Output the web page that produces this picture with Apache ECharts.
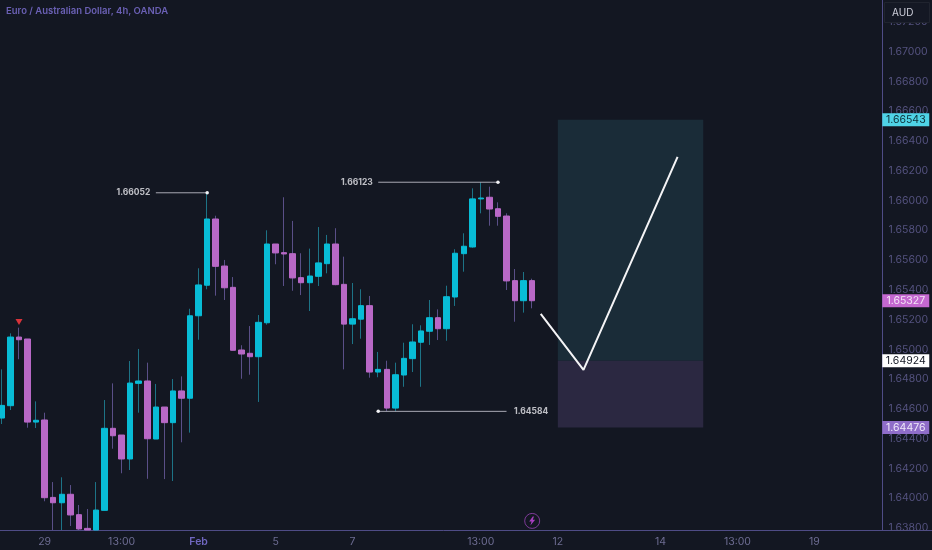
<!DOCTYPE html>
<html><head><meta charset="utf-8">
<style>html,body{margin:0;padding:0;background:#131722}#c{width:932px;height:550px}</style>
<script src="https://cdn.jsdelivr.net/npm/echarts@6/dist/echarts.min.js"></script>
</head><body><div id="c"></div>
<script>
const opens=[1.64539,1.64622,1.65083,1.65070,1.64512,1.64526,1.64006,1.63970,1.64027,1.63890,1.63798,1.63787,1.63919,1.64470,1.64425,1.64264,1.64772,1.64788,1.64398,1.64613,1.64508,1.64721,1.64672,1.65226,1.65431,1.65876,1.65560,1.65417,1.64996,1.64974,1.64951,1.65179,1.65708,1.65650,1.65643,1.65482,1.65448,1.65491,1.65576,1.65708,1.65437,1.65170,1.65203,1.65294,1.64848,1.64866,1.64606,1.64828,1.64938,1.65048,1.65122,1.65213,1.65139,1.65352,1.65643,1.65688,1.66011,1.66022,1.65945,1.65896,1.65462,1.65327,1.65462];
const closes=[1.64624,1.65083,1.65065,1.64512,1.64524,1.64004,1.63970,1.64027,1.63888,1.63794,1.63787,1.63921,1.64470,1.64420,1.64264,1.64774,1.64788,1.64400,1.64613,1.64508,1.64721,1.64672,1.65226,1.65433,1.65876,1.65558,1.65414,1.64994,1.64969,1.64951,1.65182,1.65708,1.65648,1.65641,1.65480,1.65448,1.65493,1.65581,1.65708,1.65435,1.65170,1.65206,1.65294,1.64848,1.64866,1.64606,1.64830,1.64940,1.65050,1.65124,1.65213,1.65139,1.65354,1.65646,1.65693,1.66011,1.66017,1.65943,1.65894,1.65460,1.65327,1.65462,1.65327];
const lows=[1.64499,1.64593,1.64934,1.64474,1.64472,1.63980,1.63787,1.63787,1.63814,1.63787,1.63787,1.63787,1.63919,1.64333,1.64168,1.64190,1.64575,1.64131,1.64398,1.64129,1.64116,1.64376,1.64441,1.65065,1.65404,1.65361,1.65332,1.64994,1.64803,1.64830,1.64647,1.65166,1.65572,1.65426,1.65394,1.65365,1.65258,1.65426,1.65511,1.65431,1.64866,1.65036,1.65072,1.64810,1.64813,1.64584,1.64584,1.64749,1.64848,1.64749,1.65030,1.65063,1.65058,1.65292,1.65522,1.65683,1.65914,1.65831,1.65831,1.65399,1.65186,1.65247,1.65276];
const highs=[1.64866,1.65108,1.65146,1.65070,1.64651,1.64575,1.64109,1.64141,1.64089,1.63955,1.63928,1.64109,1.64660,1.64772,1.64425,1.64922,1.65003,1.64911,1.64768,1.64613,1.64801,1.64819,1.65273,1.65545,1.66052,1.65898,1.65601,1.65486,1.65028,1.65157,1.65231,1.65800,1.65708,1.66022,1.65863,1.65646,1.65677,1.65822,1.65769,1.65814,1.65623,1.65446,1.65404,1.65359,1.64983,1.64924,1.64911,1.65045,1.65169,1.65162,1.65332,1.65269,1.65428,1.65673,1.65780,1.66082,1.66123,1.66093,1.65988,1.65914,1.65540,1.65520,1.65475];

const tickSlots=[5,14,23,32,41,56,65,77,86,95];
const tickNames=['29','13:00','Feb','5','7','13:00','12','14','13:00','19'];
const slotCount=104;
const priceTicks=[1.638,1.640,1.642,1.644,1.646,1.648,1.650,1.652,1.654,1.656,1.658,1.660,1.662,1.664,1.666,1.668,1.670,1.672];
const priceMin=1.63787, priceMax=1.67347;

const tagPrices=[1.66543,1.65327,1.64924,1.64476];
const tagFill=['#4fd3e6','#c468d0','#ffffff','#8f6dc9'];
const tagText=['#0d2f38','#f3e4f6','#131722','#efe8fa'];

const entryPath=[[63,1.65238],[68,1.64862],[79,1.66293]];
const boxSlots=[65,82];
const boxPrices=[1.66543,1.64924,1.64476];

const levelPrices=[1.66052,1.66123,1.64584];
const levelFrom=[18,44,44];
const levelTo=[24,58,59];

const signalDown=[[2,1.65184]];
const boltMark=[[62,1.63848]];

const cats=Array.from({length:slotCount},()=>'');
tickSlots.forEach((s,i)=>cats[s]=tickNames[i]);
const idx=opens.map((_,i)=>i);
const wickData=idx.map(i=>[opens[i],closes[i],lows[i],highs[i]]);
const bodyData=idx.map(i=>[opens[i],closes[i],Math.min(opens[i],closes[i]),Math.max(opens[i],closes[i])]);

const FONT='Inter';
const AXISC='#4f4c86';
const levelSeries=levelPrices.map((v,k)=>({
  type:'line',xAxisIndex:0,yAxisIndex:0,z:6,silent:true,showSymbol:true,showAllSymbols:true,symbolSize:3.5,
  itemStyle:{color:'#f2f2f5'},lineStyle:{color:'#a9a9b4',width:1},
  data:[{value:[levelFrom[k],v],symbol:k===2?'circle':'none'},{value:[levelTo[k],v],symbol:k===2?'none':'circle'}]
}));
const levelLabels=levelPrices.map((v,k)=>({
  type:'scatter',xAxisIndex:0,yAxisIndex:0,z:7,silent:true,symbolSize:1,itemStyle:{color:'rgba(0,0,0,0)'},
  data:[[k<2?levelFrom[k]:levelTo[k],v]],
  label:{show:true,position:k<2?'left':'right',distance:k<2?5:7,formatter:()=>v.toFixed(5),
    color:'#e8e8ee',fontFamily:FONT,fontWeight:700,fontSize:8.5}
}));

const chart=echarts.init(document.getElementById('c'),null,{renderer:'canvas'});
chart.setOption({
  animation:false,
  backgroundColor:'#131722',
  title:[
    {text:'Euro / Australian Dollar, 4h, OANDA',left:6,top:6,padding:0,
     textStyle:{color:'#6a60b4',fontFamily:FONT,fontWeight:600,fontSize:9.5}},
    {text:'AUD',left:884,top:2,padding:[6,16,5,8],backgroundColor:'#141824',borderColor:'#20242f',borderWidth:1,
     textStyle:{color:'#cfd0dc',fontFamily:FONT,fontWeight:400,fontSize:10},z:20}
  ],
  grid:[
    {left:-2.38,top:0,width:889.5,height:530,outerBoundsMode:'none'},
    {left:882.5,top:0,width:49.5,height:530,outerBoundsMode:'none'}
  ],
  xAxis:[
    {gridIndex:0,type:'category',data:cats,boundaryGap:true,
     axisLine:{lineStyle:{color:AXISC,width:1}},axisTick:{show:false},splitLine:{show:false},
     axisLabel:{interval:0,margin:6,color:'#6d6c92',fontFamily:FONT,fontSize:10.5,
       formatter:v=>v==='Feb'?'{b|Feb}':v,rich:{b:{color:'#7067c0',fontWeight:600,fontFamily:FONT,fontSize:10.5}}}},
    {gridIndex:1,type:'value',min:0,max:1,show:true,axisLine:{onZero:false,lineStyle:{color:AXISC,width:1}},
     axisTick:{show:false},axisLabel:{show:false},splitLine:{show:false}}
  ],
  yAxis:[
    {gridIndex:0,type:'value',min:priceMin,max:priceMax,show:false,splitLine:{show:false}},
    {gridIndex:1,type:'value',min:priceMin,max:priceMax,position:'left',
     axisLine:{show:true,lineStyle:{color:AXISC,width:1}},axisTick:{show:false},splitLine:{show:false},
     axisLabel:{inside:true,margin:6,color:'#54527f',fontFamily:FONT,fontSize:10.5,showMinLabel:true,showMaxLabel:true,
       customValues:priceTicks,formatter:v=>v.toFixed(5)}}
  ],
  series:[
    {type:'line',xAxisIndex:0,yAxisIndex:0,data:[],silent:true,z:1,
     markArea:{silent:true,data:[
       [{xAxis:boxSlots[0],yAxis:boxPrices[0],itemStyle:{color:'#1a2c38',opacity:1}},{xAxis:boxSlots[1],yAxis:boxPrices[1]}],
       [{xAxis:boxSlots[0],yAxis:boxPrices[1],itemStyle:{color:'#2b2841',opacity:1}},{xAxis:boxSlots[1],yAxis:boxPrices[2]}]
     ]}},
    {type:'candlestick',xAxisIndex:0,yAxisIndex:0,barWidth:1,z:3,silent:true,data:wickData,
     itemStyle:{color:'#1d7386',color0:'#5a4f88',borderColor:'#1d7386',borderColor0:'#5a4f88',borderWidth:1}},
    {type:'candlestick',xAxisIndex:0,yAxisIndex:0,barWidth:6,z:4,silent:true,data:bodyData,
     itemStyle:{color:'#08bcd6',color0:'#b868c6',borderColor:'#08bcd6',borderColor0:'#b868c6',borderWidth:1}},
    {type:'line',xAxisIndex:0,yAxisIndex:0,z:7,silent:true,showSymbol:false,data:entryPath,
     lineStyle:{color:'#f4f4f6',width:2}},
    ...levelSeries,
    ...levelLabels,
    {type:'scatter',xAxisIndex:0,yAxisIndex:0,z:7,silent:true,data:signalDown,symbol:'triangle',symbolRotate:180,symbolSize:[7,6],
     itemStyle:{color:'#d8333a',opacity:1}},
    {type:'scatter',xAxisIndex:0,yAxisIndex:0,z:7,silent:true,data:boltMark,symbol:'circle',symbolSize:15,
     itemStyle:{color:'rgba(0,0,0,0)',borderColor:'#7d3a97',borderWidth:1,opacity:1}},
    {type:'scatter',xAxisIndex:0,yAxisIndex:0,z:8,silent:true,data:boltMark,symbol:'path://M6 0L0 9h4l-2 7 8-10H6l2-6z',symbolSize:[6,9],
     itemStyle:{color:'#a83fc0',opacity:1}},
    {type:'scatter',xAxisIndex:1,yAxisIndex:1,z:9,silent:true,symbol:'rect',symbolSize:[47,13],
     data:tagPrices.map((p,i)=>({value:[0.47,p],itemStyle:{color:tagFill[i],opacity:1},
       label:{show:true,position:'inside',color:tagText[i],fontFamily:FONT,fontSize:10.5,formatter:()=>p.toFixed(5)}}))}
  ]
});
</script></body></html>
